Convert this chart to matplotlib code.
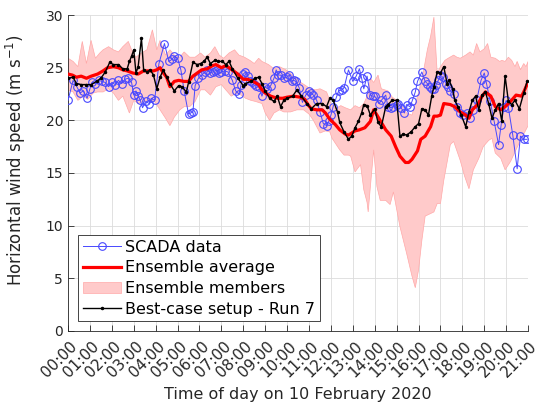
import numpy as np
import matplotlib
matplotlib.use('Agg')
import matplotlib.pyplot as plt
from matplotlib.transforms import ScaledTranslation

# SCADA measurements (hours, m/s)
scada_t = [0.0, 0.23, 0.4, 0.55, 0.7, 0.87, 1.0, 1.1, 1.25, 1.4, 1.55, 1.7, 1.85, 2.0, 2.15, 2.3,
           2.45, 2.6, 2.74, 2.9, 3.0, 3.1, 3.2, 3.3, 3.4, 3.55, 3.7, 3.8, 3.95, 4.15, 4.4, 4.6,
           4.75, 4.85, 5.0, 5.15, 5.3, 5.5, 5.6, 5.7, 5.8, 5.95, 6.1, 6.25, 6.35, 6.5, 6.6, 6.7,
           6.8, 6.9, 7.0, 7.15, 7.3, 7.5, 7.65, 7.8, 7.9, 8.0, 8.1, 8.2, 8.3, 8.4, 8.5, 8.6,
           8.7, 8.85, 9.0, 9.1, 9.25, 9.4, 9.5, 9.6, 9.7, 9.85, 10.0, 10.1, 10.2, 10.3, 10.4,
           10.55, 10.7, 10.85, 11.0, 11.1, 11.2, 11.35, 11.5, 11.65, 11.8, 11.9, 12.0, 12.1,
           12.25, 12.35, 12.5, 12.6, 12.8, 13.0, 13.15, 13.3, 13.4, 13.5, 13.65, 13.8, 13.9,
           14.0, 14.2, 14.3, 14.5, 14.6, 14.75, 14.85, 15.0, 15.07, 15.2, 15.35, 15.45, 15.6,
           15.7, 15.85, 15.95, 16.15, 16.3, 16.4, 16.5, 16.6, 16.7, 16.8, 16.9, 17.0, 17.1,
           17.25, 17.35, 17.45, 17.6, 17.75, 17.9, 18.05, 18.2, 18.35, 18.5, 18.65, 18.85,
           19.0, 19.1, 19.27, 19.45, 19.65, 19.77, 19.9, 20.0, 20.1, 20.3, 20.5, 20.65, 20.8, 20.95]
scada_v = [21.9, 23.8, 23.2, 22.6, 22.8, 22.1, 23.0, 23.6, 23.5, 23.8, 23.7, 23.6, 23.2, 23.6, 23.4, 23.8,
           23.5, 23.9, 24.0, 23.6, 22.4, 22.8, 22.3, 21.9, 21.2, 21.8, 21.6, 22.1, 21.9, 25.4, 27.3, 25.6,
           25.8, 26.1, 25.9, 24.8, 22.8, 20.6, 20.7, 20.8, 23.3, 24.0, 24.3, 24.6, 24.8, 24.5, 24.6, 24.7,
           24.8, 24.5, 24.6, 24.7, 24.6, 23.8, 22.8, 22.5, 23.4, 24.4, 24.6, 24.2, 23.7, 23.6, 23.5, 23.3,
           23.2, 22.3, 23.2, 23.0, 23.3, 24.0, 24.8, 24.3, 24.3, 24.0, 24.1, 24.3, 23.7, 23.8, 23.7,
           23.1, 21.7, 22.4, 22.8, 22.6, 22.4, 21.9, 20.8, 19.7, 19.5, 19.9, 20.5, 21.3,
           22.2, 22.8, 22.9, 23.1, 24.8, 23.7, 24.2, 24.9, 24.0, 23.0, 24.2, 22.4, 22.3,
           22.3, 21.6, 21.9, 22.4, 21.3, 21.2, 21.3, 21.5, 21.6, 21.2, 20.7, 21.5, 21.3,
           21.8, 22.7, 23.7, 24.6, 23.7, 23.5, 23.2, 23.0, 23.0, 23.4, 23.8, 24.3, 24.1,
           23.5, 23.2, 22.8, 22.5, 21.3, 20.7, 20.5, 20.7, 20.2, 21.0, 21.9, 23.8,
           24.5, 23.5, 21.8, 19.9, 17.7, 19.6, 21.3, 21.9, 21.2, 18.6, 15.4, 18.5, 18.2, 18.2]

# ensemble average
avg_t = [0.0, 0.2, 0.38, 0.6, 0.84, 1.06, 1.35, 1.6, 1.8, 2.07, 2.3, 2.5, 2.7, 2.95, 3.2, 3.45, 3.65,
         3.9, 4.05, 4.2, 4.35, 4.5, 4.65, 4.85, 5.05, 5.3, 5.5, 5.7, 5.9, 6.1, 6.35, 6.6, 6.75, 7.0,
         7.2, 7.35, 7.55, 7.75, 8.0, 8.2, 8.45, 8.7, 8.85, 9.0, 9.25, 9.55, 9.8, 10.0, 10.3, 10.6,
         10.8, 10.95, 11.1, 11.35, 11.6, 11.75, 11.95, 12.2, 12.4, 12.65, 12.8, 12.95, 13.1, 13.3,
         13.55, 13.8, 13.95, 14.1, 14.3, 14.5, 14.75, 14.95, 15.15, 15.4, 15.55, 15.7, 15.95, 16.1,
         16.3, 16.55, 16.7, 16.85, 17.0, 17.15, 17.45, 17.65, 17.9, 18.15, 18.3, 18.45, 18.7, 18.9,
         19.05, 19.3, 19.5, 19.75, 19.95, 20.2, 20.45, 20.7, 20.8, 20.95]
avg_v = [24.4, 24.3, 24.1, 24.2, 24.0, 24.2, 24.4, 24.7, 25.0, 25.1, 25.0, 24.8, 24.7, 24.5, 24.4, 24.7, 24.7,
         24.7, 24.8, 25.0, 24.5, 24.1, 23.2, 23.7, 23.8, 23.7, 23.7, 24.2, 24.5, 24.8, 24.9, 25.2, 25.3, 25.0,
         25.2, 25.0, 24.7, 24.4, 23.9, 23.9, 23.7, 23.4, 22.9, 22.6, 22.3, 22.1, 22.1, 22.2, 22.3, 22.2,
         22.0, 21.5, 21.1, 21.0, 21.0, 20.7, 20.1, 19.6, 19.1, 18.7, 18.6, 18.8, 19.0, 19.1,
         19.3, 19.9, 21.0, 20.5, 19.8, 19.1, 18.5, 17.5, 16.6, 16.0, 16.0, 16.3, 17.1, 18.2,
         18.5, 19.4, 20.4, 20.4, 20.5, 21.6, 21.5, 21.3, 20.8, 20.5, 20.2, 21.0, 21.5, 22.3,
         22.7, 22.3, 21.3, 21.0, 21.3, 21.8, 22.4, 22.3, 22.7, 23.4]

# ensemble envelope (max / min of members)
up_t = [0.0, 0.23, 0.45, 0.65, 0.84, 1.05, 1.25, 1.45, 1.6, 1.85, 2.07, 2.3, 2.5, 2.75, 2.9, 3.1, 3.35,
        3.6, 3.85, 4.05, 4.2, 4.45, 4.65, 4.85, 5.1, 5.3, 5.55, 5.8, 6.05, 6.25, 6.5, 6.7, 6.9, 7.1,
        7.35, 7.6, 7.8, 8.05, 8.3, 8.5, 8.7, 8.85, 9.15, 9.4, 9.65, 9.95, 10.25, 10.55, 10.85, 11.05,
        11.3, 11.5, 11.8, 12.0, 12.2, 12.45, 12.65, 12.9, 13.1, 13.3, 13.5, 13.7, 13.8, 13.95, 14.15,
        14.3, 14.6, 14.8, 15.0, 15.25, 15.45, 15.7, 15.9, 16.15, 16.4, 16.55, 16.7, 16.85, 17.0, 17.2,
        17.35, 17.6, 17.75, 17.9, 18.15, 18.35, 18.5, 18.65, 18.8, 19.0, 19.15, 19.3, 19.5, 19.7,
        19.8, 19.95, 20.1, 20.25, 20.4, 20.5, 20.65, 20.8, 20.9, 21.0]
up_v = [25.9, 25.6, 25.1, 27.5, 25.4, 27.6, 25.9, 26.4, 26.7, 27.0, 26.7, 26.5, 27.0, 27.5, 26.7, 26.0, 26.4,
        26.7, 28.6, 26.7, 27.6, 26.2, 26.7, 26.2, 26.0, 26.5, 26.0, 26.0, 26.4, 26.0, 26.4, 27.0, 26.2, 25.9,
        26.4, 26.7, 26.2, 26.0, 25.7, 25.4, 25.9, 25.6, 25.3, 24.9, 25.1, 24.8, 24.3, 23.7, 23.3, 23.0,
        22.9, 23.0, 22.7, 21.6, 21.1, 21.4, 21.2, 21.0, 21.4, 21.2, 21.6, 22.5, 24.0, 23.6, 24.3,
        23.0, 22.8, 22.2, 21.9, 21.3, 20.7, 20.5, 21.9, 23.8, 26.7, 28.0, 29.8, 24.5, 25.1, 25.7,
        25.9, 26.2, 26.0, 25.9, 26.2, 26.5, 26.2, 27.3, 26.5, 26.8, 27.3, 26.0, 25.9, 25.6,
        25.7, 25.6, 26.0, 25.7, 25.1, 25.6, 24.8, 25.4, 25.1, 25.6]
low_t = [0.0, 0.23, 0.45, 0.7, 0.9, 1.15, 1.35, 1.6, 1.85, 2.07, 2.3, 2.5, 2.8, 3.0, 3.2, 3.45, 3.65,
         3.95, 4.2, 4.45, 4.65, 4.85, 5.1, 5.3, 5.55, 5.8, 6.05, 6.25, 6.5, 6.75, 7.0, 7.2, 7.45, 7.7,
         7.9, 8.1, 8.35, 8.55, 8.85, 9.0, 9.2, 9.4, 9.65, 9.85, 10.15, 10.45, 10.75, 11.0, 11.2, 11.5,
         11.75, 11.95, 12.05, 12.4, 12.6, 12.8, 12.9, 13.1, 13.35, 13.5, 13.65, 13.7, 13.8, 13.95,
         14.1, 14.25, 14.5, 14.7, 14.85, 15.15, 15.45, 15.7, 15.85, 16.0, 16.15, 16.3, 16.7, 16.85,
         17.0, 17.15, 17.45, 17.6, 17.9, 18.1, 18.3, 18.5, 18.75, 18.95, 19.2, 19.35, 19.5, 19.75,
         19.95, 20.2, 20.4, 20.65, 20.9, 21.0]
low_v = [22.9, 22.7, 21.9, 22.3, 22.0, 22.6, 22.7, 22.7, 23.0, 22.6, 21.9, 22.3, 20.7, 21.9, 21.6, 21.8, 21.9,
         21.8, 21.0, 20.2, 19.5, 20.3, 21.0, 21.3, 21.3, 21.8, 22.9, 22.9, 22.4, 23.2, 23.4, 22.9, 22.3, 22.6,
         22.4, 22.1, 21.9, 21.8, 21.6, 20.7, 20.0, 20.7, 21.0, 20.8, 20.8, 21.0, 21.0, 20.6, 20.0, 18.8,
         19.0, 18.9, 18.3, 17.2, 16.7, 16.7, 16.6, 15.1, 15.8, 13.4, 12.2, 11.3, 13.7, 17.2,
         13.7, 12.4, 12.4, 12.0, 13.2, 9.9, 7.4, 5.2, 4.1, 5.8, 8.6, 10.9, 11.3, 12.1,
         12.1, 14.3, 17.7, 18.0, 16.2, 14.7, 13.5, 15.3, 16.4, 17.5, 18.1, 18.3, 16.9, 16.4,
         15.3, 16.1, 17.0, 18.1, 19.1, 19.5]

# best-case setup, run 7
run7_t = [0.0, 0.23, 0.38, 0.6, 0.84, 1.06, 1.3, 1.5, 1.7, 1.9, 2.07, 2.3, 2.5, 2.7, 2.8, 2.9, 3.0, 3.1,
          3.2, 3.35, 3.45, 3.6, 3.75, 3.9, 4.05, 4.2, 4.35, 4.5, 4.65, 4.85, 5.05, 5.2, 5.4, 5.5, 5.7,
          5.9, 6.05, 6.2, 6.35, 6.5, 6.7, 6.85, 7.05, 7.2, 7.35, 7.5, 7.75, 8.0, 8.1, 8.35, 8.55, 8.7,
          8.85, 9.0, 9.2, 9.4, 9.55, 9.7, 9.85, 10.0, 10.25, 10.45, 10.65, 10.9, 11.1, 11.35, 11.6,
          11.8, 11.95, 12.1, 12.3, 12.4, 12.6, 12.8, 12.95, 13.1, 13.25, 13.4, 13.5, 13.65, 13.8,
          14.0, 14.15, 14.3, 14.5, 14.6, 14.8, 15.0, 15.15, 15.3, 15.45, 15.65, 15.85, 16.0, 16.15,
          16.3, 16.45, 16.6, 16.7, 16.85, 17.0, 17.15, 17.3, 17.4, 17.55, 17.65, 17.8, 17.95, 18.15,
          18.3, 18.45, 18.6, 18.75, 18.9, 19.05, 19.2, 19.35, 19.5, 19.65, 19.8, 19.95, 20.1, 20.25,
          20.4, 20.6, 20.8, 20.95]
run7_v = [24.0, 24.1, 23.5, 23.4, 23.4, 23.4, 23.7, 24.0, 24.6, 25.5, 25.3, 25.3, 24.9, 24.9, 25.6, 26.1, 26.7, 24.5,
          25.1, 27.8, 24.8, 24.6, 24.8, 24.3, 23.0, 24.1, 24.8, 24.1, 23.5, 22.8, 23.3, 23.2, 22.7, 23.6, 25.5,
          25.3, 25.4, 25.6, 26.0, 25.4, 25.7, 25.6, 25.6, 25.3, 25.6, 24.9, 24.0, 23.3, 23.5, 23.7, 24.0, 24.1,
          23.5, 22.8, 22.1, 21.8, 22.3, 21.3, 21.9, 22.1, 22.3, 22.9, 22.3, 21.6, 21.1, 21.6, 21.6,
          21.3, 22.1, 21.9, 20.8, 19.8, 18.9, 18.2, 18.5, 19.3, 19.9, 20.7, 21.5, 21.4, 20.5,
          21.1, 19.8, 19.4, 21.3, 21.5, 21.9, 21.9, 18.5, 18.7, 18.6, 18.9, 19.4, 19.7, 21.1,
          21.0, 20.5, 22.3, 23.2, 24.6, 24.5, 25.1, 23.5, 23.8, 23.0, 21.9, 21.3, 20.5, 19.4,
          20.8, 21.9, 22.3, 21.0, 22.4, 22.7, 21.6, 20.2, 21.0, 21.6, 19.9, 24.2, 21.8, 21.5,
          21.9, 21.1, 22.6, 23.7]

hour_labels = ['%02d:00' % h for h in range(22)]

fig = plt.figure(figsize=(5.4, 4.08), dpi=100)
ax = fig.add_axes([0.126, 0.189, 0.852, 0.774])

dark = '#262626'
ax.fill(np.concatenate([up_t, low_t[::-1]]), np.concatenate([up_v, low_v[::-1]]),
        facecolor='#ffcaca', edgecolor='#ffa8a8', linewidth=0.5, zorder=2,
        label='Ensemble members')
ax.plot(scada_t, scada_v, color='#4848ff', lw=0.7, marker='o', ms=5.5, mfc='none',
        mew=0.8, zorder=3, label='SCADA data')
ax.plot(avg_t, avg_v, color='red', lw=2.3, zorder=4, label='Ensemble average')
ax.plot(run7_t, run7_v, color='black', lw=1.0, marker='.', ms=3, zorder=5,
        label='Best-case setup - Run 7')

ax.set_xlim(0, 21)
ax.set_ylim(0, 30)
ax.set_xticks(range(22))
ax.set_xticklabels(hour_labels, rotation=45, ha='right', rotation_mode='anchor')
ax.set_yticks(range(0, 31, 5))
ax.tick_params(direction='in', length=4, width=0.6, colors=dark, labelsize=10,
               top=False, right=False)
ax.tick_params(axis='x', pad=4, labelsize=11)
# nudge rotated labels a little right/down, like the original
shift = ScaledTranslation(0.015, -0.02, fig.dpi_scale_trans)
for lab in ax.get_xticklabels():
    lab.set_transform(lab.get_transform() + shift)
ax.grid(True, color='#dcdcdc', lw=0.6, zorder=0)
ax.set_axisbelow(True)
for s in ['top', 'right']:
    ax.spines[s].set_visible(False)
for s in ['left', 'bottom']:
    ax.spines[s].set_color(dark)
    ax.spines[s].set_linewidth(0.6)

ax.set_xlabel('Time of day on 10 February 2020', fontsize=11.5, color=dark)
ax.xaxis.set_label_coords(0.5, -0.178)
ax.set_ylabel('Horizontal wind speed (m s$^{-1}$)', fontsize=12, color=dark)
ax.yaxis.set_label_coords(-0.087, 0.54)

h, l = ax.get_legend_handles_labels()
order = [1, 2, 0, 3]
leg = ax.legend([h[i] for i in order], [l[i] for i in order], loc='lower left',
                bbox_to_anchor=(0.022, 0.03), borderaxespad=0, fontsize=11.5,
                frameon=True, fancybox=False, framealpha=1, edgecolor=dark,
                handlelength=2.4, handletextpad=0.25, labelspacing=0.35, borderpad=0.3)
leg.get_frame().set_linewidth(0.6)

fig.savefig('out.png', dpi=100)
